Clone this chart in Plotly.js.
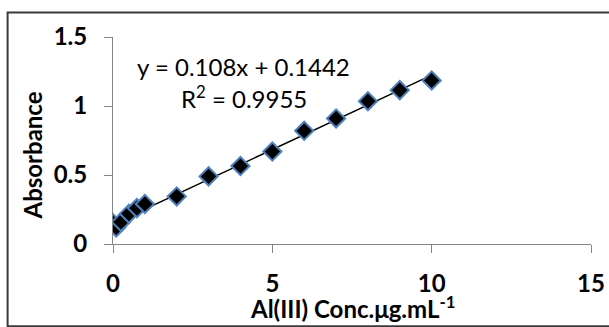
<!DOCTYPE html>
<html>
<head>
<meta charset="utf-8">
<script src="https://cdn.plot.ly/plotly-3.0.1.min.js"></script>
<style>html,body{margin:0;padding:0;background:#fff;}#chart{width:609px;height:327px;}</style>
</head>
<body>
<div id="chart"></div>
<script>
// Data
const concentration = [0, 0.1, 0.25, 0.5, 0.75, 1, 2, 3, 4, 5, 6, 7, 8, 9, 10];
const absorbance    = [0.15, 0.12, 0.16, 0.22, 0.26, 0.29, 0.345, 0.49, 0.565, 0.67, 0.82, 0.91, 1.035, 1.115, 1.185];
const slope = 0.108;
const intercept = 0.1442;
const rSquared = 0.9955;
const xTicks = [0, 5, 10, 15];
const yTicks = [0, 0.5, 1, 1.5];
const xTickLabels = ['0', '5', '10', '15'];
const yTickLabels = ['0', '0.5', '1', '1.5'];

const xMin = Math.min(...concentration), xMax = Math.max(...concentration);
const trendX = [xMin, xMax];
const trendY = trendX.map(x => slope * x + intercept);

const FONT = 'Lato, "Open Sans", sans-serif';

const traces = [
  {
    x: trendX, y: trendY, type: 'scatter', mode: 'lines',
    line: {color: '#000000', width: 1.5}, hoverinfo: 'skip', showlegend: false
  },
  {
    x: concentration, y: absorbance, type: 'scatter', mode: 'markers',
    marker: {symbol: 'diamond', size: 14, color: '#000000', line: {color: '#4F81BD', width: 2}},
    showlegend: false
  }
];

const layout = {
  width: 609, height: 327,
  margin: {l: 113, r: 18, t: 37, b: 83},
  paper_bgcolor: '#ffffff', plot_bgcolor: '#ffffff',
  font: {family: FONT, color: '#000000'},
  showlegend: false,
  xaxis: {
    range: [0, 15], tickvals: xTicks, ticktext: xTickLabels,
    showgrid: false, zeroline: false, showline: true, linecolor: '#868686', linewidth: 1,
    ticks: 'outside', ticklen: 8, tickcolor: '#868686', tickwidth: 1,
    tickfont: {family: FONT, size: 24, weight: 'bold', color: '#000000'},
    ticklabelstandoff: 10
  },
  yaxis: {
    range: [0, 1.5], tickvals: yTicks, ticktext: yTickLabels,
    showgrid: false, zeroline: false, showline: true, linecolor: '#868686', linewidth: 1,
    ticks: 'outside', ticklen: 8, tickcolor: '#868686', tickwidth: 1,
    tickfont: {family: FONT, size: 24, weight: 'bold', color: '#000000'},
    ticklabelstandoff: 12
  },
  annotations: [
    {text: 'y = ' + slope + 'x + ' + intercept, x: 4.1, y: 1.284, xref: 'x', yref: 'y',
     showarrow: false, xanchor: 'center', yanchor: 'middle',
     font: {family: FONT, size: 24, color: '#000000'}},
    {text: 'R<sup>2</sup> = ' + rSquared, x: 4.1, y: 1.066, xref: 'x', yref: 'y',
     showarrow: false, xanchor: 'center', yanchor: 'middle',
     font: {family: FONT, size: 24, color: '#000000'}},
    {text: 'Al(III) Conc.μg.mL<sup>-1</sup>', x: 0.5, y: -0.302, xref: 'paper', yref: 'paper',
     showarrow: false, xanchor: 'center', yanchor: 'middle',
     font: {family: FONT, size: 24, weight: 'bold', color: '#000000'}},
    {text: 'Absorbance', x: -0.168, y: 0.426, xref: 'paper', yref: 'paper', textangle: -90,
     showarrow: false, xanchor: 'center', yanchor: 'middle',
     font: {family: FONT, size: 24, weight: 'bold', color: '#000000'}}
  ],
  shapes: [
    {type: 'rect', xref: 'paper', yref: 'paper', x0: -0.2205, x1: 1.06, y0: -0.397, y1: 1.118,
     line: {color: '#3a3a3a', width: 2}, fillcolor: 'rgba(0,0,0,0)', layer: 'below'}
  ]
};

Plotly.newPlot('chart', traces, layout, {displayModeBar: false, staticPlot: true});
</script>
</body>
</html>
